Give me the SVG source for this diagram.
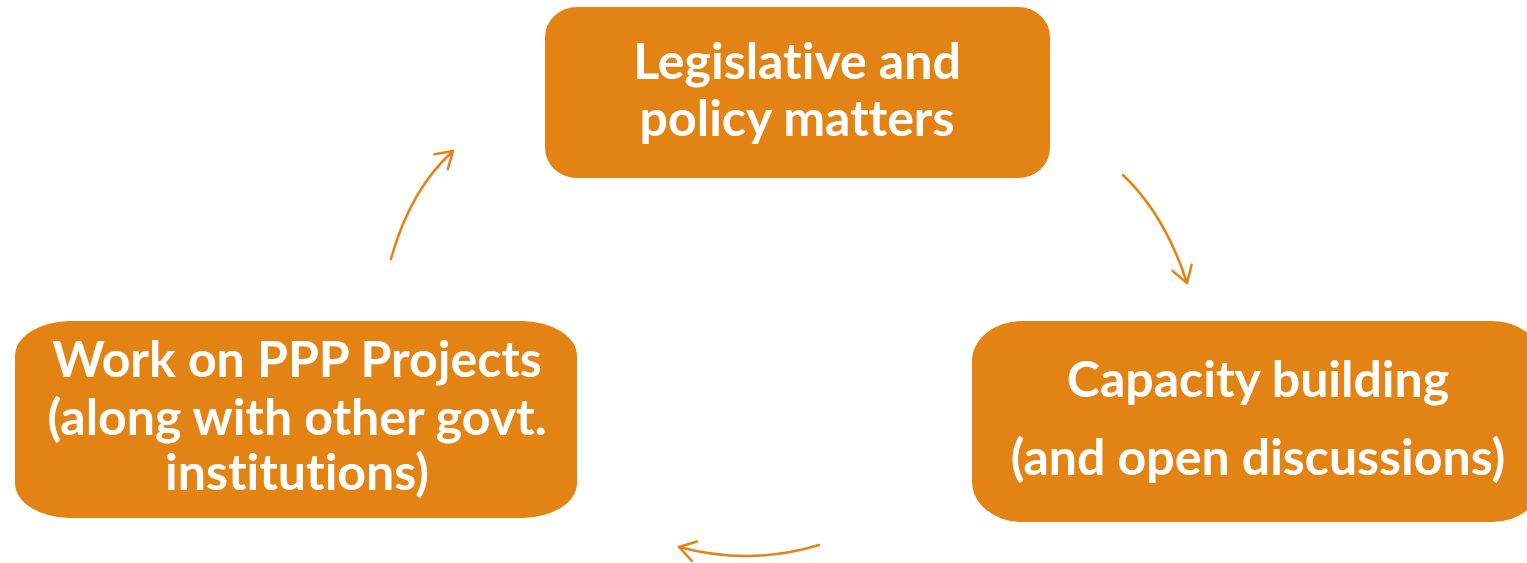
<svg xmlns="http://www.w3.org/2000/svg" width="1527" height="563" viewBox="0 0 1527 563">
<defs>
<style>
.box{fill:#E38313;}
.t{font-family:Lato,"Open Sans","Liberation Sans",sans-serif;font-weight:bold;font-size:50px;fill:#FFFFFF;text-anchor:middle;font-variant-ligatures:none;font-feature-settings:"liga" 0,"clig" 0;}
.c{fill:none;stroke:#E38313;stroke-width:2.5;stroke-linecap:round;}
</style>
<marker id="ah" markerWidth="24" markerHeight="24" refX="20" refY="12" orient="auto" markerUnits="userSpaceOnUse">
<path d="M4,2 L20,12 L4,22" fill="none" stroke="#E38313" stroke-width="2.5" stroke-linecap="round" stroke-linejoin="round"/>
</marker>
</defs>
<rect width="1527" height="563" fill="#FFFFFF"/>
<g id="connectors">
<path class="c" d="M391,259 Q410,190 453,151" marker-end="url(#ah)"/>
<path class="c" d="M1123,175 Q1165,215 1187,283" marker-end="url(#ah)"/>
<path class="c" d="M819,545 Q750,566 679,547" marker-end="url(#ah)"/>
</g>
<g id="node-legislative">
<rect class="box" x="545" y="7" width="505" height="171" rx="32" ry="30"/>
<text class="t" x="797" y="79">Legislative and</text>
<text class="t" x="797" y="136">policy matters</text>
</g>
<g id="node-capacity">
<rect class="box" x="972" y="321" width="570" height="201" rx="50" ry="40"/>
<text class="t" x="1258" y="397">Capacity building</text>
<text class="t" x="1258" y="475">(and open discussions)</text>
</g>
<g id="node-ppp">
<rect class="box" x="15" y="321" width="562" height="197" rx="55" ry="35"/>
<text class="t" x="297" y="377">Work on PPP Projects</text>
<text class="t" x="297" y="435">(along with other govt.</text>
<text class="t" x="297" y="490">institutions)</text>
</g>
</svg>
